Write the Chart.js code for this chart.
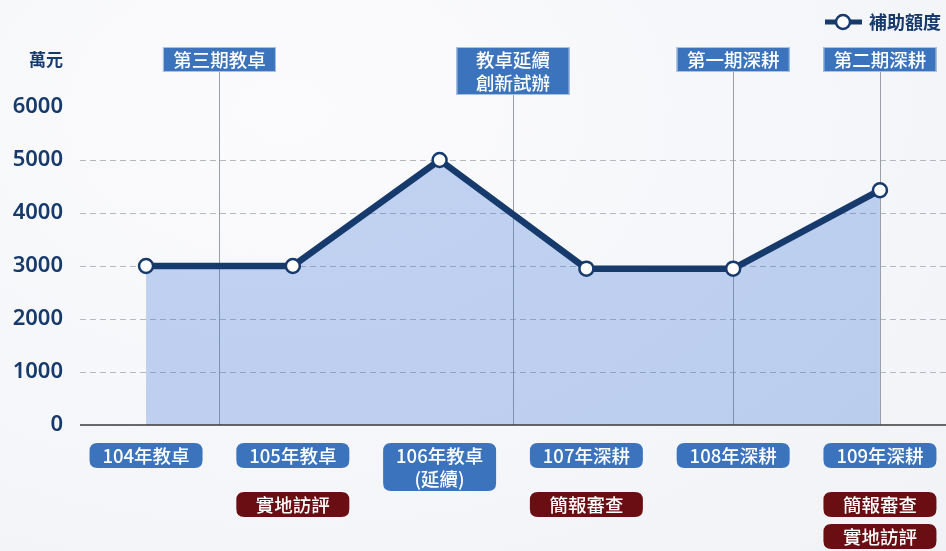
<!DOCTYPE html>
<html>
<head>
<meta charset="utf-8">
<style>
  html, body { margin: 0; padding: 0; }
  body {
    width: 946px; height: 551px; overflow: hidden;
    background: radial-gradient(ellipse at 30% 20%, #fbfbfd 0%, #f5f6f9 60%, #f1f2f6 100%);
  }
  #wrap { position: relative; width: 946px; height: 551px; }
</style>
</head>
<body>
<div id="wrap"><canvas id="fundChart" width="946" height="551"></canvas></div>
<script src="https://cdn.jsdelivr.net/npm/chart.js"></script>
<script>
    // Data
    const years = ['104年教卓', '105年教卓', '106年教卓\n(延續)', '107年深耕', '108年深耕', '109年深耕'];
    const amounts = [3000, 3000, 5000, 2950, 2950, 4430];
    const reviews = [[], ['實地訪評'], [], ['簡報審查'], [], ['簡報審查', '實地訪評']];
    const phaseNames = ['第三期教卓', '教卓延續\n創新試辦', '第一期深耕', '第二期深耕'];
    const phaseAt = [0.5, 2.5, 4, 5];
    const yTicks = [0, 1000, 2000, 3000, 4000, 5000, 6000];
    const seriesName = '補助額度';
    const unitLabel = '萬元';

    const NAVY = '#173a6d';
    const BLUE = '#3b74bc';
    const RED = '#6a0e13';
    const CJK = '"Noto Sans CJK TC", "Noto Sans", sans-serif';

    function roundBox(ctx, x, y, w, h, r) {
        ctx.beginPath();
        ctx.moveTo(x + r, y);
        ctx.lineTo(x + w - r, y);
        ctx.quadraticCurveTo(x + w, y, x + w, y + r);
        ctx.lineTo(x + w, y + h - r);
        ctx.quadraticCurveTo(x + w, y + h, x + w - r, y + h);
        ctx.lineTo(x + r, y + h);
        ctx.quadraticCurveTo(x, y + h, x, y + h - r);
        ctx.lineTo(x, y + r);
        ctx.quadraticCurveTo(x, y, x + r, y);
        ctx.closePath();
    }

    function labelBox(ctx, cx, top, text, color, rounded) {
        const lines = text.split('\n');
        const w = 113, lh = 23, h = lines.length * lh + 2;
        const x = cx - w / 2;
        ctx.save();
        if (rounded) {
            roundBox(ctx, x, top, w, h, 8);
            ctx.fillStyle = color;
            ctx.fill();
        } else {
            ctx.fillStyle = color;
            ctx.fillRect(x, top, w, h);
            ctx.strokeStyle = '#a9c2e4';
            ctx.lineWidth = 1;
            ctx.strokeRect(x + 0.5, top + 0.5, w - 1, h - 1);
        }
        ctx.fillStyle = '#ffffff';
        ctx.font = '500 18.5px ' + CJK;
        ctx.textAlign = 'center';
        ctx.textBaseline = 'middle';
        lines.forEach((ln, i) => ctx.fillText(ln, cx, top + 1 + lh * i + lh / 2 + 0.5));
        ctx.restore();
        return h;
    }

    const decorPlugin = {
        id: 'decor',
        beforeDatasetsDraw(chart) {
            const ctx = chart.ctx;
            const xs = chart.scales.x, ys = chart.scales.y;
            const base = ys.getPixelForValue(0);
            ctx.save();
            // phase divider lines
            ctx.strokeStyle = '#9a9ea6';
            ctx.lineWidth = 1;
            phaseAt.forEach((p, i) => {
                const x = Math.round(xs.getPixelForValue(p)) + 0.5;
                const top = 47 + phaseNames[i].split('\n').length * 23 + 2;
                ctx.beginPath();
                ctx.moveTo(x, top);
                ctx.lineTo(x, base);
                ctx.stroke();
            });
            ctx.restore();
        },
        afterDatasetsDraw(chart) {
            const ctx = chart.ctx;
            const ys = chart.scales.y;
            const base = ys.getPixelForValue(0);
            ctx.save();
            ctx.strokeStyle = '#3a3a3a';
            ctx.lineWidth = 1.5;
            ctx.beginPath();
            ctx.moveTo(chart.chartArea.left, base);
            ctx.lineTo(chart.chartArea.right, base);
            ctx.stroke();
            ctx.restore();
        },
        afterDraw(chart) {
            const ctx = chart.ctx;
            const xs = chart.scales.x;

            // phase labels on top
            phaseAt.forEach((p, i) => {
                labelBox(ctx, xs.getPixelForValue(p), 47, phaseNames[i], BLUE, false);
            });

            // year labels and review tags below
            years.forEach((y, i) => {
                const cx = xs.getPixelForValue(i);
                labelBox(ctx, cx, 443, y, BLUE, true);
                reviews[i].forEach((r, j) => {
                    labelBox(ctx, cx, 492 + j * 32, r, RED, true);
                });
            });

            // unit
            ctx.save();
            ctx.fillStyle = NAVY;
            ctx.font = 'bold 17px ' + CJK;
            ctx.textAlign = 'right';
            ctx.textBaseline = 'middle';
            ctx.fillText(unitLabel, 63, 60);

            // legend
            ctx.strokeStyle = NAVY;
            ctx.lineWidth = 5;
            ctx.beginPath();
            ctx.moveTo(825, 22);
            ctx.lineTo(862, 22);
            ctx.stroke();
            ctx.beginPath();
            ctx.arc(843, 22, 7, 0, Math.PI * 2);
            ctx.fillStyle = '#ffffff';
            ctx.fill();
            ctx.lineWidth = 2.5;
            ctx.stroke();
            ctx.fillStyle = NAVY;
            ctx.font = 'bold 18px ' + CJK;
            ctx.textAlign = 'left';
            ctx.fillText(seriesName, 869, 22);
            ctx.restore();
        }
    };

    function initFundChart() {
        const ctx = document.getElementById('fundChart').getContext('2d');
        new Chart(ctx, {
            type: 'line',
            data: {
                datasets: [{
                    label: seriesName,
                    data: amounts.map((v, i) => ({ x: i, y: v })),
                    borderColor: NAVY,
                    borderWidth: 6.5,
                    backgroundColor: 'rgba(60, 115, 215, 0.3)',
                    fill: 'origin',
                    tension: 0,
                    pointRadius: 7,
                    pointBorderWidth: 2.5,
                    pointBackgroundColor: '#ffffff',
                    pointBorderColor: NAVY
                }]
            },
            options: {
                responsive: false,
                animation: false,
                layout: { autoPadding: false, padding: { top: 107, bottom: 126, left: 0, right: 0 } },
                plugins: {
                    legend: { display: false },
                    tooltip: { enabled: false }
                },
                scales: {
                    x: {
                        type: 'linear',
                        min: -0.45,
                        max: 5.45,
                        display: false
                    },
                    y: {
                        min: 0,
                        max: 6000,
                        afterFit(scale) { scale.width = 80; },
                        afterBuildTicks(scale) { scale.ticks = yTicks.map(v => ({ value: v })); },
                        border: { display: false, dash: [6, 4] },
                        grid: {
                            drawTicks: false,
                            lineWidth: 1,
                            color: c => (c.tick.value === 0 || c.tick.value === 6000) ? 'rgba(0,0,0,0)' : '#b4b8bf'
                        },
                        ticks: {
                            padding: 17,
                            color: NAVY,
                            font: { family: '"Noto Sans", sans-serif', size: 22, weight: '600' },
                            callback: v => String(v)
                        }
                    }
                }
            },
            plugins: [decorPlugin]
        });
    }

    document.addEventListener('DOMContentLoaded', initFundChart);
</script>
</body>
</html>
